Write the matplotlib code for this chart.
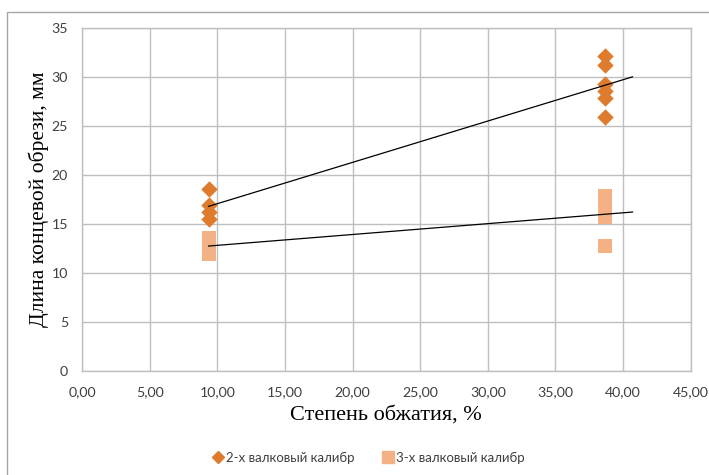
import matplotlib
matplotlib.use("Agg")
import matplotlib.pyplot as plt
import numpy as np
from matplotlib.lines import Line2D
from matplotlib.patches import Rectangle

# data
x_two = [9.36, 9.36, 9.36, 9.36, 38.7, 38.7, 38.7, 38.7, 38.7, 38.7]
y_two = [18.6, 16.9, 16.2, 15.5, 32.15, 31.2, 29.3, 28.6, 27.9, 25.9]
x_three = [9.36, 9.36, 9.36, 9.36, 38.7, 38.7, 38.7, 38.7, 38.7]
y_three = [11.9, 12.5, 13.0, 13.6, 12.8, 15.7, 16.4, 17.2, 17.9]
label_two = "2-х валковый калибр"
label_three = "3-х валковый калибр"
xticks = [0, 5, 10, 15, 20, 25, 30, 35, 40, 45]
yticks = [0, 5, 10, 15, 20, 25, 30, 35]
xlabel = "Степень обжатия, %"
ylabel = "Длина концевой обрези, мм"
forecast = 2.0

c_two = "#DE7B2C"
c_three = "#F4B183"
grid_c = "#BFBFBF"

fig = plt.figure(figsize=(7.09, 4.75), dpi=100)
ax = fig.add_axes([82/709, 1-371/475, (690.7-82)/709, (371-28)/475])

# outer chart border (left and top visible)
fig.patches.append(Rectangle((7/709, -0.05), 1.2, 1-12/475+0.05,
                             transform=fig.transFigure, fill=False,
                             edgecolor="#A6A6A6", linewidth=1.0))

ax.scatter(x_two, y_two, marker="D", s=70, color=c_two, zorder=3, linewidths=0)
ax.scatter(x_three, y_three, marker="s", s=100, color=c_three, zorder=3, linewidths=0)

for xs, ys in ((x_two, y_two), (x_three, y_three)):
    k, b = np.polyfit(xs, ys, 1)
    xx = np.array([min(xs), max(xs) + forecast])
    ax.plot(xx, k*xx + b, color="black", linewidth=0.9, zorder=4)

ax.set_xlim(0, 45)
ax.set_ylim(0, 35)
ax.set_xticks(xticks)
ax.set_yticks(yticks)
ax.set_xticklabels([f"{v:.2f}".replace(".", ",") for v in xticks])
ax.set_yticklabels([str(v) for v in yticks])
ax.grid(True, color=grid_c, linewidth=1.0)
ax.set_axisbelow(True)
for s in ax.spines.values():
    s.set_color(grid_c)
    s.set_linewidth(1.0)
ax.tick_params(length=0, labelsize=10.2, colors="#404040")
ax.tick_params(axis="x", pad=11)
ax.tick_params(axis="y", pad=10)
for t in ax.get_xticklabels() + ax.get_yticklabels():
    t.set_fontfamily("Lato")

ax.set_xlabel(xlabel, fontfamily="Liberation Serif", fontsize=16)
ax.set_ylabel(ylabel, fontfamily="Liberation Serif", fontsize=15.5)
ax.xaxis.set_label_coords(0.5, -0.1)
ax.yaxis.set_label_coords(-0.054, 0.5)

handles = [Line2D([], [], marker="D", linestyle="none", color=c_two, markersize=6),
           Line2D([], [], marker="s", linestyle="none", color=c_three, markersize=8)]
leg = fig.legend(handles, [label_two, label_three], loc="center",
                 bbox_to_anchor=(368/709, 1-458/475), ncol=2, frameon=False,
                 prop={"family": "Lato", "size": 9.5}, handletextpad=0.1,
                 columnspacing=2.0, handlelength=1.0)
for t in leg.get_texts():
    t.set_color("#404040")

fig.savefig("out.png", dpi=100)
